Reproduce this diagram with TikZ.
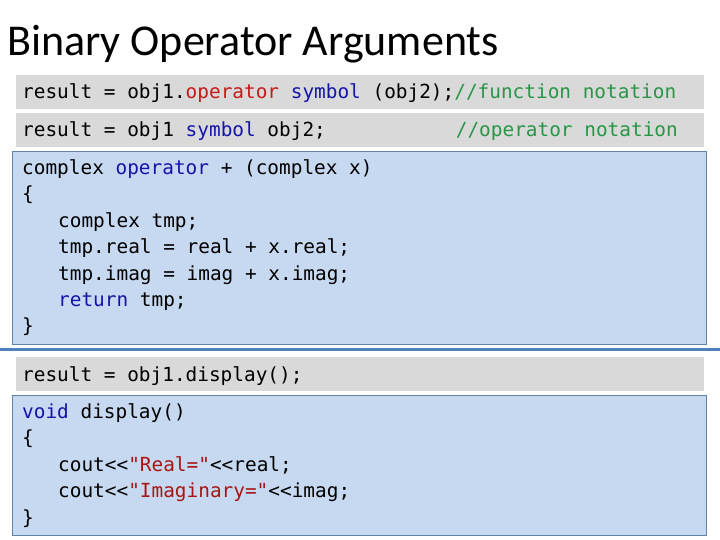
\documentclass[tikz,border=0pt]{standalone}
\usepackage{fontspec}
\setmainfont{Carlito}
\setmonofont{DejaVu Sans Mono}[Scale=1]
\definecolor{barg}{RGB}{217,217,217}
\definecolor{boxb}{RGB}{198,217,240}
\definecolor{boxe}{RGB}{100,130,165}
\definecolor{sep}{RGB}{79,129,189}
\definecolor{kw}{RGB}{20,20,170}
\definecolor{rd}{RGB}{200,25,25}
\definecolor{cm}{RGB}{40,150,70}
\definecolor{st}{RGB}{170,20,20}
\begin{document}
\begin{tikzpicture}[x=1pt,y=-1pt,
  code/.style={anchor=base west,inner sep=0pt,font=\ttfamily\fontsize{19.4}{21}\selectfont},
  bar/.style={fill=barg,draw=none},
  bbox/.style={fill=boxb,draw=boxe,line width=0.8pt}]
\useasboundingbox (0,0) rectangle (720,540);
\node[anchor=base west,inner sep=0pt,font=\fontsize{44}{46}\selectfont] (t) at (7,56) {Binary Operator Arguments};
\path[bar] (16,75) rectangle (704,109);
\path[bar] (16,113) rectangle (704,147);
\path[bbox] (12,151) rectangle (706,344);
\draw[sep,line width=3pt] (0,349) -- (720,349);
\path[bar] (16,357) rectangle (704,391);
\path[bbox] (12,395) rectangle (706,535);
\node[code] (l1) at (22,99) {result = obj1.\textcolor{rd}{operator} \textcolor{kw}{symbol} (obj2);\textcolor{cm}{//function notation}};
\node[code] (l2) at (22,137) {result = obj1 \textcolor{kw}{symbol} obj2;};
\node[code,anchor=base east] (l2c) at (678,137) {\textcolor{cm}{//operator notation}};
\node[code] (c1) at (22,175) {complex \textcolor{kw}{operator} + (complex x)};
\node[code] (c2) at (22,201) {\{};
\node[code] (c3) at (58,227) {complex tmp;};
\node[code] (c4) at (58,253) {tmp.real = real + x.real;};
\node[code] (c5) at (58,280) {tmp.imag = imag + x.imag;};
\node[code] (c6) at (58,306) {\textcolor{kw}{return} tmp;};
\node[code] (c7) at (22,332) {\}};
\node[code] (l3) at (22,381) {result = obj1.display();};
\node[code] (d1) at (22,418) {\textcolor{kw}{void} display()};
\node[code] (d2) at (22,444) {\{};
\node[code] (d3) at (58,471) {cout<<\textcolor{st}{"Real="}<<real;};
\node[code] (d4) at (58,497) {cout<<\textcolor{st}{"Imaginary="}<<imag;};
\node[code] (d5) at (22,524) {\}};
\end{tikzpicture}
\end{document}
